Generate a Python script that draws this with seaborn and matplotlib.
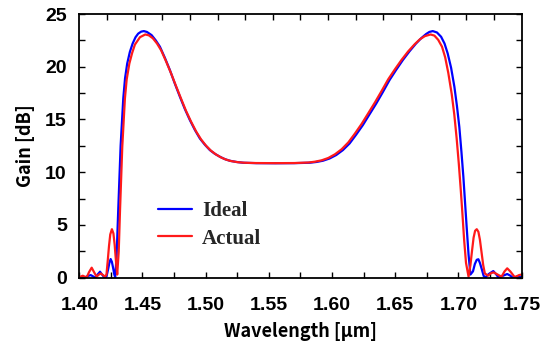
import numpy as np
import pandas as pd
import matplotlib
matplotlib.use("Agg")
import matplotlib.pyplot as plt
import seaborn as sns
from matplotlib.ticker import MultipleLocator, FixedLocator

# ---- data ----
ideal_wl = [1.400, 1.402, 1.404, 1.4065, 1.409, 1.411, 1.4127, 1.4145, 1.4164, 1.418,
            1.420, 1.4215, 1.4228, 1.4238, 1.4248, 1.4258, 1.4268, 1.4277, 1.4284,
            1.4295, 1.4308, 1.4327, 1.4348, 1.4362, 1.4379, 1.440, 1.4422, 1.4445, 1.4466,
            1.449, 1.4511, 1.4535, 1.4572, 1.4605, 1.4638, 1.4677, 1.4717, 1.4756, 1.4796,
            1.4835, 1.4875, 1.4915, 1.4954, 1.4994, 1.5033, 1.5072, 1.5112, 1.515, 1.519,
            1.5245, 1.5296, 1.540, 1.555, 1.570, 1.5823, 1.5875, 1.5928, 1.598, 1.6033,
            1.6086, 1.6139, 1.619, 1.6244, 1.6297, 1.635, 1.6402, 1.6455, 1.6507, 1.656,
            1.6612, 1.6665, 1.6705, 1.6744, 1.677, 1.6797, 1.683, 1.6863, 1.689, 1.6915,
            1.6942, 1.6968, 1.6988, 1.7007, 1.7024, 1.7039, 1.7052, 1.7065, 1.708, 1.7095,
            1.7115, 1.713, 1.7145, 1.7158, 1.717, 1.7185, 1.720, 1.7215, 1.724, 1.7276,
            1.730, 1.7318, 1.7355, 1.7386, 1.741, 1.743, 1.746, 1.750]
ideal_gain = [0.05, 0.02, 0.0, 0.15, 0.25, 0.12, 0.0, 0.3, 0.57, 0.3,
              0.0, 0.1, 0.8, 1.4, 1.77, 1.5, 0.9, 0.3, 0.05,
              2.0, 6.4, 12.5, 17.0, 18.9, 20.3, 21.4, 22.2, 22.8, 23.14,
              23.33, 23.38, 23.3, 23.0, 22.5, 21.9, 20.85, 19.68, 18.4, 17.16,
              16.0, 14.94, 14.0, 13.2, 12.6, 12.1, 11.75, 11.47, 11.25, 11.09,
              10.97, 10.9, 10.86, 10.85, 10.86, 10.9, 10.97, 11.09, 11.3, 11.63,
              12.1, 12.73, 13.55, 14.47, 15.5, 16.52, 17.6, 18.74, 19.7, 20.63,
              21.45, 22.21, 22.7, 23.1, 23.3, 23.38, 23.25, 22.84, 22.2, 21.26,
              19.9, 18.1, 16.3, 14.3, 11.9, 9.57, 7.2, 4.83, 2.2, 0.3,
              0.6, 1.3, 1.7, 1.75, 1.4, 0.8, 0.15, 0.05, 0.35, 0.63,
              0.3, 0.0, 0.2, 0.35, 0.2, 0.0, 0.1, 0.05]

actual_wl = [1.400, 1.4027, 1.4058, 1.4078, 1.4098, 1.4118, 1.4137, 1.4155, 1.4171, 1.4188,
             1.4203, 1.4215, 1.4225, 1.4235, 1.4245, 1.4258, 1.427, 1.428, 1.429, 1.4300,
             1.4312, 1.4322, 1.434, 1.4361, 1.4375, 1.4396, 1.4418,
             1.444, 1.448, 1.4522, 1.455, 1.4582, 1.4615, 1.4648, 1.4687, 1.4727, 1.4766,
             1.4806, 1.4845, 1.4885, 1.4925, 1.4964, 1.5004, 1.5043, 1.5082, 1.5122, 1.516,
             1.520, 1.5255, 1.5306, 1.540, 1.555, 1.570, 1.5813, 1.5865, 1.5918, 1.597,
             1.6023, 1.6076, 1.6129, 1.618, 1.6234, 1.6287, 1.634, 1.6392, 1.6445, 1.6497,
             1.655, 1.6602, 1.6655, 1.6695, 1.6734, 1.678, 1.681, 1.684, 1.687, 1.6895,
             1.692, 1.6947, 1.6967, 1.6986, 1.7003, 1.7018, 1.7032, 1.7045, 1.706, 1.708,
             1.7095, 1.7108, 1.712, 1.7132, 1.7145, 1.7158, 1.717, 1.7183, 1.7196, 1.7209,
             1.7235, 1.726, 1.728, 1.731, 1.7341, 1.7365, 1.7386, 1.741, 1.7446, 1.748,
             1.750]
actual_gain = [0.05, 0.19, 0.02, 0.55, 0.95, 0.5, 0.1, 0.3, 0.4, 0.25,
               0.1, 0.3, 1.6, 3.0, 4.1, 4.6, 4.2, 3.1, 1.6, 0.3,
               2.5, 6.3, 12.4, 17.0, 18.8, 20.3, 21.3,
               22.1, 22.8, 23.06, 22.98, 22.7, 22.2, 21.55, 20.5, 19.35, 18.15,
               16.95, 15.8, 14.78, 13.85, 13.1, 12.5, 12.03, 11.68, 11.4, 11.2,
               11.06, 10.95, 10.9, 10.87, 10.86, 10.87, 10.92, 11.0, 11.13, 11.35,
               11.7, 12.18, 12.83, 13.65, 14.58, 15.6, 16.63, 17.7, 18.82, 19.75,
               20.65, 21.45, 22.15, 22.6, 22.9, 23.06, 22.95, 22.55, 21.9, 20.9,
               19.4, 17.4, 15.5, 13.2, 10.8, 8.4, 6.0, 3.6, 1.4, 0.1,
               1.2, 2.6, 3.8, 4.45, 4.6, 4.35, 3.6, 2.4, 1.2, 0.4,
               0.2, 0.45, 0.5, 0.3, 0.1, 0.6, 0.89, 0.6, 0.05, 0.25,
               0.3]

series_names = ["Ideal", "Actual"]
series_colors = ["#0000ff", "#ff1a1a"]
x_ticks = [1.40, 1.45, 1.50, 1.55, 1.60, 1.65, 1.70, 1.75]
x_ticklabels = ["1.40", "1.45", "1.50", "1.55", "1.60", "1.65", "1.70", "1.75"]
y_ticks = [0, 5, 10, 15, 20, 25]

df = pd.concat([
    pd.DataFrame({"wl": ideal_wl, "gain": ideal_gain, "series": series_names[0]}),
    pd.DataFrame({"wl": actual_wl, "gain": actual_gain, "series": series_names[1]}),
], ignore_index=True)

sns.set_theme(style="white")
plt.rcParams["font.family"] = ["Liberation Sans", "DejaVu Sans"]

fig = plt.figure(figsize=(5.45, 3.44), dpi=100)
ax = fig.add_axes([0.1455, 0.1927, 0.8116, 0.7666])

sns.lineplot(data=df, x="wl", y="gain", hue="series", hue_order=series_names,
             palette=dict(zip(series_names, series_colors)), estimator=None,
             sort=False, linewidth=1.6, ax=ax)

ax.set_xlim(1.40, 1.75)
ax.set_ylim(0, 25)
for s in ax.spines.values():
    s.set_color("black")
    s.set_linewidth(1.3)

ax.set_xticks(x_ticks)
ax.set_xticklabels(x_ticklabels)
ax.xaxis.set_minor_locator(MultipleLocator(0.025))
ax.set_yticks(y_ticks)
ax.yaxis.set_minor_locator(MultipleLocator(2.5))
ax.tick_params(axis="both", which="both", direction="in", length=4, width=1,
               color="black", bottom=True, left=True, right=True, top=False)
ax.tick_params(axis="x", which="major", pad=14)
ax.tick_params(axis="y", which="major", pad=9)
for lab in ax.get_xticklabels() + ax.get_yticklabels():
    lab.set_fontsize(14)
    lab.set_fontweight("bold")
    lab.set_color("black")

top = ax.secondary_xaxis("top")
top.xaxis.set_major_locator(FixedLocator(list(1.40 + 0.021875 * np.arange(1, 16))))
top.tick_params(direction="in", length=4, width=1, color="black", labeltop=False)
top.spines["top"].set_visible(False)

lab_font = ["Noto Sans CJK JP", "DejaVu Sans"]
ax.set_xlabel("Wavelength [μm]", fontsize=13, fontweight="bold", family=lab_font,
              color="black", labelpad=6)
ax.set_ylabel("Gain [dB]", fontsize=13, fontweight="bold", family=lab_font,
              color="black", labelpad=7)

leg = ax.legend(loc="center left", bbox_to_anchor=(0.155, 0.2), frameon=False,
                handlelength=1.6, handletextpad=0.5, labelspacing=0.35, borderpad=0,
                prop={"family": "Liberation Serif", "weight": "bold", "size": 15})
for line in leg.get_lines():
    line.set_linewidth(1.6)

fig.savefig("out.png", dpi=100)
